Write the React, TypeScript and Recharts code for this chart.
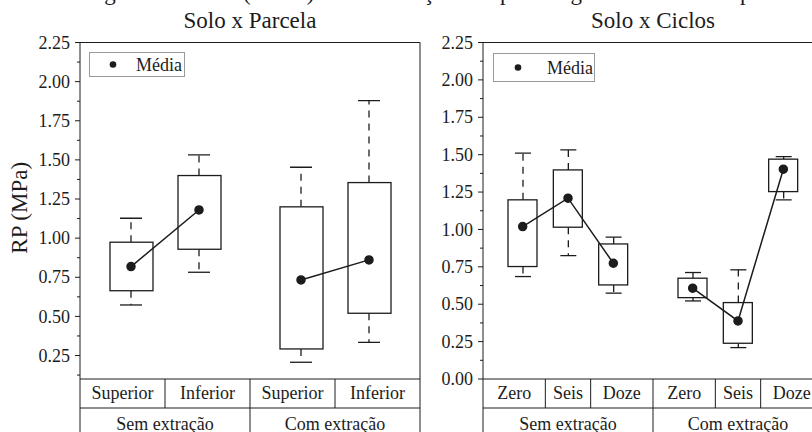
import React from 'react';
import { ComposedChart, Bar, Line, XAxis, YAxis, Legend } from 'recharts';

const FONT = '"Liberation Serif", "Times New Roman", Times, serif';
const INK = '#1c1c1c';

// ---------- Solo x Parcela ----------
const parcelaLabels = ['Superior', 'Inferior', 'Superior', 'Inferior'];
const parcelaGroupIdx = [0, 0, 1, 1];
const parcelaGroups = ['Sem extração', 'Com extração'];
const parcelaMin = [0.573, 0.782, 0.207, 0.334];
const parcelaQ1 = [0.664, 0.929, 0.292, 0.52];
const parcelaQ3 = [0.974, 1.4, 1.2, 1.355];
const parcelaMax = [1.127, 1.532, 1.453, 1.879];
const parcelaMean = [0.818, 1.18, 0.733, 0.861];
const parcelaYTicks = [0.25, 0.5, 0.75, 1.0, 1.25, 1.5, 1.75, 2.0, 2.25];

// ---------- Solo x Ciclos ----------
const ciclosLabels = ['Zero', 'Seis', 'Doze', 'Zero', 'Seis', 'Doze'];
const ciclosGroupIdx = [0, 0, 0, 1, 1, 1];
const ciclosGroups = ['Sem extração', 'Com extração'];
const ciclosMin = [0.685, 0.825, 0.574, 0.522, 0.21, 1.198];
const ciclosQ1 = [0.752, 1.015, 0.629, 0.544, 0.239, 1.253];
const ciclosQ3 = [1.198, 1.398, 0.903, 0.674, 0.511, 1.47];
const ciclosMax = [1.51, 1.532, 0.948, 0.712, 0.73, 1.487];
const ciclosMean = [1.019, 1.209, 0.774, 0.607, 0.388, 1.403];
const ciclosYTicks = [0, 0.25, 0.5, 0.75, 1.0, 1.25, 1.5, 1.75, 2.0, 2.25];

const captionWords = [
  { x: 85, t: 'Figura' },
  { x: 243, t: '(média)' },
  { x: 371, t: 'interação' },
  { x: 500, t: 'para' },
  { x: 541, t: 'longo' },
  { x: 740, t: 'prazo' },
];

// ---------- layout ----------
const CHART_W = 430;
const CHART_H = 445;
const Y_AXIS_W = 80;
const PLOT_W = 340;
const MARGIN = { top: 41.5, right: 9, bottom: 8, left: 0 };
const ROW1 = 29;
const ROW2 = 29;

type Spec = {
  labels: string[];
  groupIdx: number[];
  groups: string[];
  min: number[];
  q1: number[];
  q3: number[];
  max: number[];
  mean: number[];
  yTicks: number[];
  yDomain: [number, number];
  groupGap: number;
  edgePad: number;
  boxW: number;
  capW: number;
  legend: { left: number; top: number; w: number; h: number; dotX: number; textX: number };
  yLabel?: string;
  left: number;
  title: string;
};

const specs: Spec[] = [
  {
    labels: parcelaLabels, groupIdx: parcelaGroupIdx, groups: parcelaGroups,
    min: parcelaMin, q1: parcelaQ1, q3: parcelaQ3, max: parcelaMax, mean: parcelaMean,
    yTicks: parcelaYTicks, yDomain: [0.1, 2.25], groupGap: 0.5, edgePad: 0.75,
    boxW: 43, capW: 22,
    legend: { left: 89, top: 52, w: 96, h: 25, dotX: 24, textX: 47 },
    yLabel: 'RP (MPa)', left: 0, title: 'Solo x Parcela',
  },
  {
    labels: ciclosLabels, groupIdx: ciclosGroupIdx, groups: ciclosGroups,
    min: ciclosMin, q1: ciclosQ1, q3: ciclosQ3, max: ciclosMax, mean: ciclosMean,
    yTicks: ciclosYTicks, yDomain: [0, 2.25], groupGap: 0.75, edgePad: 0.875,
    boxW: 29, capW: 16,
    legend: { left: 90, top: 53, w: 102, h: 29, dotX: 25, textX: 54 },
    left: 403, title: 'Solo x Ciclos',
  },
];

function build(s: Spec) {
  const pos = s.labels.map((_, i) => i + 1 + s.groupIdx[i] * s.groupGap);
  const rows = s.labels.map((label, i) => {
    const r: any = { pos: pos[i], label, min: s.min[i], q1: s.q1[i], q3: s.q3[i], max: s.max[i] };
    r['m' + s.groupIdx[i]] = s.mean[i];
    return r;
  });
  const dom: [number, number] = [pos[0] - s.edgePad, pos[pos.length - 1] + s.edgePad];
  const edges = [dom[0]];
  const gEdges = [dom[0]];
  for (let i = 1; i < pos.length; i++) {
    const mid = (pos[i - 1] + pos[i]) / 2;
    edges.push(mid);
    if (s.groupIdx[i] !== s.groupIdx[i - 1]) gEdges.push(mid);
  }
  edges.push(dom[1]);
  gEdges.push(dom[1]);
  const centers = edges.slice(1).map((e, i) => (edges[i] + e) / 2);
  const gCenters = gEdges.slice(1).map((e, i) => (gEdges[i] + e) / 2);
  return { pos, rows, dom, edges, gEdges, centers, gCenters };
}

const near = (a: number, b: number) => Math.abs(a - b) < 1e-6;
const uniq = (arr: number[]) =>
  arr.slice().sort((a, b) => a - b).filter((v, i, a) => i === 0 || !near(v, a[i - 1]));

const txt = { fontFamily: FONT };

const BoxShape = (p: any) => (
  <rect x={p.x} y={p.y} width={p.width} height={p.height} fill="#fff" stroke={INK} strokeWidth={1.3} />
);
const UpperWhisker = (p: any) => {
  const cx = p.x + p.width / 2;
  return (
    <g stroke={INK} strokeWidth={1.3}>
      <line x1={cx} x2={cx} y1={p.y + p.height} y2={p.y} strokeDasharray="7 6" />
      <line x1={p.x} x2={p.x + p.width} y1={p.y} y2={p.y} />
    </g>
  );
};
const LowerWhisker = (p: any) => {
  const cx = p.x + p.width / 2;
  return (
    <g stroke={INK} strokeWidth={1.3}>
      <line x1={cx} x2={cx} y1={p.y} y2={p.y + p.height} strokeDasharray="7 6" />
      <line x1={p.x} x2={p.x + p.width} y1={p.y + p.height} y2={p.y + p.height} />
    </g>
  );
};

function Panel({ s }: { s: Spec }) {
  const b = build(s);
  const minors = s.yTicks.map((m) => m - 0.125).filter((v) => v >= s.yDomain[0] - 1e-9);
  const allY = uniq([...s.yTicks, ...minors]);
  const isMajor = (v: number) => s.yTicks.some((m) => near(m, v));

  const YTick = (p: any) => {
    const v = p.payload.value;
    const ax = p.x + 10;
    const major = isMajor(v);
    return (
      <g>
        <line x1={ax - (major ? 5 : 3)} x2={ax} y1={p.y} y2={p.y} stroke={INK} strokeWidth={1} />
        {major && (
          <text x={p.x} y={p.y} dy="0.34em" textAnchor="end" fontSize={18} style={txt} fill={INK}>
            {v.toFixed(2)}
          </text>
        )}
      </g>
    );
  };
  const row1Ticks = uniq([...b.edges, ...b.centers]);
  const row2Ticks = uniq([...b.gEdges, ...b.gCenters]);
  const Row1Tick = (p: any) => {
    const v = p.payload.value;
    const ci = b.centers.findIndex((c) => near(c, v));
    const isEdge = b.edges.some((e) => near(e, v));
    return (
      <g>
        {isEdge && <line x1={p.x} x2={p.x} y1={p.y} y2={p.y + ROW1} stroke={INK} strokeWidth={1} />}
        {ci >= 0 && (
          <text x={p.x} y={p.y + 19.5} textAnchor="middle" fontSize={18} style={txt} fill={INK}>
            {s.labels[ci]}
          </text>
        )}
      </g>
    );
  };
  const Row2Tick = (p: any) => {
    const v = p.payload.value;
    const gi = b.gCenters.findIndex((c) => near(c, v));
    const isEdge = b.gEdges.some((e) => near(e, v));
    return (
      <g>
        {isEdge && <line x1={p.x} x2={p.x} y1={p.y} y2={p.y + ROW2 + 6} stroke={INK} strokeWidth={1} />}
        {gi >= 0 && (
          <text x={p.x} y={p.y + 21.5} textAnchor="middle" fontSize={18} style={txt} fill={INK}>
            {s.groups[gi]}
          </text>
        )}
      </g>
    );
  };
  const lg = s.legend;
  const renderLegend = () => (
    <svg width={lg.w} height={lg.h} style={{ display: 'block' }}>
      <rect x={0.5} y={0.5} width={lg.w - 1} height={lg.h - 1} fill="#fff" stroke="#9a9a9a" strokeWidth={1} />
      <circle cx={lg.dotX} cy={lg.h / 2} r={3.3} fill={INK} />
      <text x={lg.textX} y={lg.h / 2} dy="0.35em" fontSize={18} style={txt} fill={INK}>
        Média
      </text>
    </svg>
  );

  const common = { type: 'number' as const, domain: b.dom, allowDataOverflow: true, dataKey: 'pos' };
  const axisLine = { stroke: INK, strokeWidth: 1 };

  return (
    <ComposedChart width={CHART_W} height={CHART_H} data={b.rows} margin={MARGIN}>
      <XAxis xAxisId="b" {...common} ticks={b.pos} hide height={0} />
      <XAxis xAxisId="wu" {...common} ticks={b.pos} hide height={0} />
      <XAxis xAxisId="wl" {...common} ticks={b.pos} hide height={0} />
      <XAxis xAxisId="top" {...common} orientation="top" height={1} tick={false} tickLine={false} axisLine={axisLine} />
      <XAxis xAxisId="r1" {...common} ticks={row1Ticks} interval={0} height={ROW1} tickSize={0} tickMargin={0}
        axisLine={axisLine} tickLine={false} tick={Row1Tick} />
      <XAxis xAxisId="r2" {...common} ticks={row2Ticks} interval={0} height={ROW2} tickSize={0} tickMargin={0}
        axisLine={axisLine} tickLine={false} tick={Row2Tick} />

      <YAxis yAxisId="y" type="number" domain={s.yDomain} allowDataOverflow ticks={allY} interval={0}
        width={Y_AXIS_W} tickSize={5} tickMargin={5} tickLine={false} axisLine={axisLine} tick={YTick}
        label={s.yLabel ? {
          content: (p: any) => {
            const vb = p.viewBox;
            return (
              <text transform={`translate(${vb.x + 27}, ${vb.y + vb.height / 2 - 3}) rotate(-90)`}
                textAnchor="middle" fontSize={23} style={txt} fill={INK}>{s.yLabel}</text>
            );
          },
        } : undefined} />
      <YAxis yAxisId="r" orientation="right" type="number" domain={s.yDomain} allowDataOverflow width={1}
        tick={false} tickLine={false} axisLine={axisLine} />

      <Bar xAxisId="wu" yAxisId="y" dataKey={(d: any) => [d.q3, d.max]} barSize={s.capW}
        shape={UpperWhisker} isAnimationActive={false} />
      <Bar xAxisId="wl" yAxisId="y" dataKey={(d: any) => [d.min, d.q1]} barSize={s.capW}
        shape={LowerWhisker} isAnimationActive={false} />
      <Bar xAxisId="b" yAxisId="y" dataKey={(d: any) => [d.q1, d.q3]} barSize={s.boxW}
        shape={BoxShape} isAnimationActive={false} />
      {s.groups.map((_, g) => (
        <Line key={g} xAxisId="b" yAxisId="y" dataKey={'m' + g} stroke={INK} strokeWidth={1.5}
          dot={{ r: 4, fill: INK, stroke: INK }} activeDot={false} isAnimationActive={false} />
      ))}
      <Legend layout="vertical" align="center" verticalAlign="middle" content={renderLegend}
        wrapperStyle={{ left: lg.left, top: lg.top, width: lg.w, height: lg.h }} />
    </ComposedChart>
  );
}

export default function App() {
  return (
    <div style={{ position: 'absolute', left: 0, top: 0, width: 812, height: 432, overflow: 'hidden', background: '#fff' }}>
      <svg width={812} height={432} style={{ position: 'absolute', left: 0, top: 0 }}>
        {captionWords.map((w, i) => (
          <text key={i} x={w.x} y={-0.5} fontSize={23} style={txt} fill={INK}>{w.t}</text>
        ))}
        {specs.map((s, i) => (
          <text key={i} x={s.left + Y_AXIS_W + PLOT_W / 2} y={28} textAnchor="middle" fontSize={23}
            style={txt} fill={INK}>{s.title}</text>
        ))}
      </svg>
      {specs.map((s, i) => (
        <div key={i} style={{ position: 'absolute', left: s.left, top: 0 }}>
          <Panel s={s} />
        </div>
      ))}
    </div>
  );
}
